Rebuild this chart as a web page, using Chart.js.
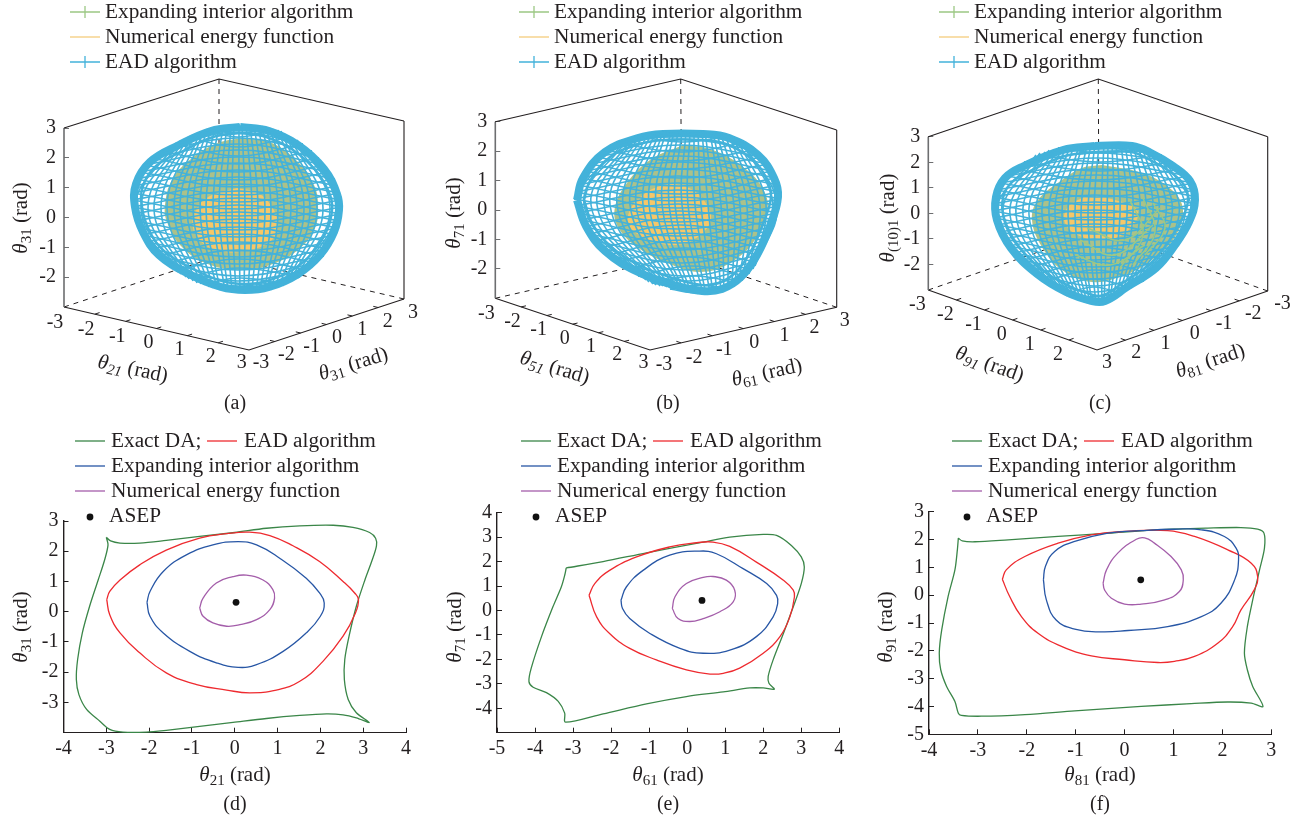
<!DOCTYPE html>
<html>
<head>
<meta charset="utf-8">
<title>Domain of attraction estimates</title>
<script src="https://cdn.jsdelivr.net/npm/chart.js@4"></script>
<style>
html, body { margin: 0; background: #fff; }
canvas { position: absolute; }
</style>
</head>
<body>
<script>
// ---- panel (a) wire surface, projected plane
const aLatY = [130,137,144,151,158,165,172,179,186,193,200,207,214,221,228,235,242,249,256,263,270,277,284];
const aLatL = [205,188,174,160,150,144,139,135,133,132,132,132,133,135,138,141,146,151,156,165,176,187,204];
const aLatR = [275,290,303,312,319,325,330,335,338,340,341,342,341,340,338,336,331,328,324,317,309,300,285];
const aLatX = [238,238,238,238,238,238,238,238,238,238,238,238,238,238,238,238,238,238,238,238,238,239,240];
const aLatFront = [137,147,156,164,172,180,187,195,202,209,216,223,230,237,244,251,257,264,270,276,281,286,290];
const aLatBack = [126,127,132,138,144,150,157,163,170,177,184,191,198,205,212,219,227,234,242,250,259,268,278];
const aMerX = [135,141,148,154,161,167,174,180,187,193,200,206,213,219,226,232,239,245,252,258,265,271,278,284,291,297,304,310,317,323,330,336];
const aTopX = [176,180,184,188,192,195,200,203,207,211,215,219,223,227,231,234,239,242,246,250,254,258,262,266,270,273,278,281,285,289,293,297];
const aTopY = [143,141,139,137,135,134,132,131,129,128,127,126,126,125,124,124,124,124,124,124,125,125,126,127,128,129,130,131,134,136,138,140];
const aBotX = [178,181,186,189,193,197,201,205,209,213,217,220,225,228,232,236,240,244,248,252,256,260,264,267,271,275,279,283,287,291,295,298];
const aBotY = [272,274,277,279,281,283,284,285,287,288,289,290,291,291,292,292,293,293,293,292,292,291,291,290,290,288,287,286,283,280,279,278];
const aRim = [[240,127],[269,131],[298,145],[324,169],[337,194],[339,210],[334,232],[320,255],[298,274],[269,287],[245,290],[221,287],[189,274],[159,255],[143,232],[135,207],[136,184],[150,162],[179,145],[211,131]];
const aRing = [[240,133],[266,137],[293,150],[317,172],[330,195],[332,210],[327,230],[314,251],[294,269],[267,281],[245,284],[222,281],[193,269],[164,251],[149,230],[142,207],[143,186],[156,166],[183,151],[213,137]];
const aGreen = [[243,138],[272,143],[298,162],[314,185],[318,205],[315,228],[298,250],[270,265],[240,270],[205,263],[180,245],[167,222],[165,205],[172,180],[192,158],[218,143]];
const aOrange = [[237,188],[258,193],[272,207],[278,224],[272,240],[250,250],[225,252],[205,245],[193,228],[197,208],[212,195]];

// ---- panel (b)
const bLatY = [136,143,150,157,164,171,178,185,192,199,206,213,220,227,234,241,248,255,262,269,276,283,289];
const bLatL = [205,187,173,165,160,155,150,147,145,144,145,147,151,154,159,165,170,178,187,197,208,222,240];
const bLatR = [301,313,325,333,339,343,346,349,350,351,350,348,345,343,340,336,332,329,325,319,315,308,298];
const bLatX = [253,252,250,250,250,249,249,248,248,248,248,248,248,249,249,250,252,253,255,258,262,265,268];
const bLatFront = [142,152,161,169,178,186,194,201,208,215,222,229,236,243,250,257,263,270,276,281,286,290,293];
const bLatBack = [131,134,139,145,150,156,162,169,176,183,190,197,204,211,218,225,233,240,248,257,266,276,285];
const bMerX = [148,154,161,167,174,180,187,193,200,206,213,219,226,232,239,245,252,258,265,271,278,284,291,297,304,310,317,323,330,336,343,347];
const bTopX = [194,197,202,205,209,213,217,221,225,229,233,236,241,244,248,252,256,260,264,268,272,275,280,283,287,291,295,299,303,307,311,313];
const bTopY = [142,140,138,137,136,135,135,134,133,133,131,131,131,131,131,131,131,131,131,131,131,131,132,132,133,134,134,135,137,139,141,143];
const bBotX = [216,219,223,226,230,233,237,240,244,247,251,254,258,261,265,268,273,276,280,283,287,291,294,298,302,305,309,312,316,319,323,325];
const bBotY = [280,282,284,285,286,286,287,288,288,289,290,291,292,293,293,294,294,294,293,293,293,292,291,289,287,285,283,281,277,274,269,266];
const bRim = [[147,200],[153,178],[175,152],[208,138],[233,134],[273,134],[299,138],[328,155],[344,178],[348,197],[340,226],[327,255],[311,277],[292,289],[272,291],[244,285],[208,272],[175,251],[156,226]];
const bRing = [[154,200],[160,181],[180,157],[210,144],[234,140],[272,140],[296,144],[323,160],[337,180],[341,197],[333,224],[321,251],[306,272],[289,283],[272,285],[246,279],[211,266],[180,246],[162,223]];
const bGreen = [[253,145],[283,150],[317,170],[335,193],[337,213],[325,240],[300,263],[270,272],[237,263],[207,247],[188,227],[185,207],[197,183],[220,160]];
const bOrange = [[240,183],[263,190],[278,207],[280,223],[263,240],[243,245],[220,240],[200,227],[200,210],[217,192]];

// ---- panel (c)
const cLatY = [148,155,162,169,176,183,190,197,204,211,218,225,232,239,246,253,260,267,274,281,288,294,300];
const cLatL = [183,163,149,138,131,125,121,119,118,118,119,122,125,129,134,139,147,153,161,169,179,190,205];
const cLatR = [272,287,298,307,315,319,321,323,322,321,319,316,312,308,303,298,292,286,278,269,256,247,237];
const cLatX = [228,225,224,222,222,222,221,221,220,220,220,219,219,219,218,219,219,220,220,220,218,219,221];
const cLatFront = [153,162,171,180,189,197,205,213,220,227,234,240,247,254,260,267,273,279,286,292,297,301,304];
const cLatBack = [143,148,153,158,163,169,175,181,188,195,202,210,217,224,232,239,247,255,262,270,279,287,296];
const cMerX = [122,128,135,141,148,154,161,167,174,180,187,193,200,206,213,219,226,232,239,245,252,258,265,271,278,284,291,297,304,310,316];
const cTopX = [161,165,170,174,178,182,187,191,195,199,204,207,212,216,220,224,229,233,237,241,246,250,254,258,263,267,271,275,280,284,287];
const cTopY = [155,153,152,150,150,149,148,147,146,145,145,144,144,143,143,143,143,143,143,143,143,143,143,143,145,146,147,149,152,154,156];
const cBotX = [180,182,186,188,192,194,197,200,203,206,209,212,215,217,221,224,227,229,233,235,238,241,244,247,250,252,255,258,262,264,267];
const cBotY = [289,290,292,293,296,297,298,299,300,301,302,303,304,304,304,304,304,304,302,301,299,297,295,293,291,290,288,286,283,281,278];
const cRim = [[220,146],[257,146],[276,153],[298,166],[315,181],[320,200],[314,222],[300,245],[281,268],[252,287],[230,301],[217,301],[191,292],[162,274],[136,248],[122,220],[121,197],[130,178],[149,166],[188,150]];
const cRing = [[220,152],[256,152],[273,159],[294,171],[309,185],[313,200],[307,219],[294,241],[276,263],[249,282],[229,295],[218,295],[194,286],[166,269],[142,244],[129,218],[128,198],[136,183],[153,172],[190,156]];
const cGreen = [[227,165],[267,173],[297,190],[308,210],[300,237],[277,260],[250,275],[217,282],[187,270],[167,247],[157,220],[163,200],[187,180],[207,168]];
const cOrange = [[213,195],[240,200],[262,210],[257,227],[233,240],[207,237],[190,223],[193,207]];
const cGreenWire = [[[200,255],[235,265],[270,245]],[[205,240],[240,255],[278,225]],[[212,228],[250,240],[285,208]],[[255,200],[268,235],[245,268]],[[268,198],[280,232],[258,265]],[[278,203],[290,228],[270,255]]];

// ---- panel (d) curves, rad
const dExact = [[-3.00,2.46],[-2.90,2.34],[-2.68,2.27],[-2.22,2.27],[-1.60,2.36],[-0.82,2.49],[0,2.62],[0.74,2.76],[1.52,2.84],[2.30,2.86],[2.76,2.79],[3.15,2.62],[3.29,2.43],[3.31,2.18],[3.21,1.71],[3.04,1.05],[2.84,0.18],[2.67,-0.81],[2.57,-1.58],[2.56,-2.24],[2.65,-2.90],[2.84,-3.34],[3.14,-3.66],[2.84,-3.51],[2.53,-3.41],[2.14,-3.38],[1.52,-3.43],[0.74,-3.53],[-0.04,-3.66],[-0.82,-3.79],[-1.60,-3.92],[-2.06,-3.98],[-2.61,-3.98],[-2.92,-3.89],[-3.15,-3.62],[-3.46,-3.23],[-3.64,-2.74],[-3.70,-2.24],[-3.67,-1.58],[-3.56,-0.70],[-3.39,0.18],[-3.19,1.05],[-3.04,1.71],[-2.96,2.21]];
const dEad = [[-2.99,0.40],[-2.92,0.67],[-2.68,1.05],[-2.22,1.55],[-1.60,2.04],[-0.82,2.43],[-0.19,2.58],[0.35,2.63],[0.82,2.52],[1.36,2.18],[1.98,1.66],[2.53,1.00],[2.80,0.62],[2.89,0.40],[2.82,-0.04],[2.53,-0.81],[2.06,-1.64],[1.52,-2.30],[0.97,-2.59],[0.35,-2.68],[-0.19,-2.59],[-0.89,-2.41],[-1.60,-2.02],[-2.22,-1.36],[-2.68,-0.70],[-2.92,-0.10]];
const dInterior = [[-2.05,0.31],[-1.98,0.67],[-1.67,1.33],[-1.13,1.88],[-0.51,2.21],[0.08,2.32],[0.51,2.21],[1.05,1.77],[1.67,1.11],[1.98,0.62],[2.09,0.29],[2.00,-0.15],[1.67,-0.70],[1.13,-1.31],[0.51,-1.75],[0.08,-1.84],[-0.43,-1.69],[-1.05,-1.31],[-1.67,-0.70],[-1.98,-0.15]];
const dEnergy = [[-0.82,0.12],[-0.74,0.45],[-0.43,0.95],[-0.04,1.16],[0.27,1.21],[0.66,1.05],[0.89,0.73],[0.93,0.45],[0.82,0.07],[0.51,-0.26],[0.12,-0.43],[-0.19,-0.48],[-0.51,-0.37],[-0.74,-0.15]];
const dAsep = [[0.03,0.31]];

// ---- panel (e)
const eExact = [[-3.18,1.74],[-2.21,2.00],[-1.07,2.36],[0.42,2.80],[1.12,3.00],[2.00,3.11],[2.35,3.07],[2.74,2.66],[3.00,2.19],[3.08,1.78],[3.00,1.10],[2.79,0.15],[2.53,-0.94],[2.26,-2.02],[2.13,-2.70],[2.15,-2.98],[2.29,-3.22],[2.00,-3.17],[1.65,-3.17],[0.95,-3.33],[-0.02,-3.52],[-1.07,-3.82],[-2.21,-4.23],[-3.20,-4.57],[-3.22,-4.20],[-3.39,-3.72],[-3.70,-3.36],[-4.05,-3.14],[-4.16,-2.91],[-4.10,-2.36],[-3.83,-1.07],[-3.53,0.15],[-3.31,0.96],[-3.22,1.44]];
const eEad = [[-2.58,0.62],[-2.43,1.10],[-2.04,1.64],[-1.33,2.19],[-0.46,2.60],[0.25,2.77],[0.68,2.80],[1.12,2.62],[1.82,1.98],[2.53,1.24],[2.79,0.83],[2.82,0.56],[2.70,-0.26],[2.44,-1.07],[2.00,-1.75],[1.38,-2.36],[0.95,-2.57],[0.60,-2.60],[-0.02,-2.43],[-0.81,-2.02],[-1.51,-1.55],[-2.04,-0.94],[-2.38,-0.26]];
const eInterior = [[-1.74,0.42],[-1.60,0.96],[-1.16,1.64],[-0.46,2.26],[0.33,2.43],[0.77,2.32],[1.47,1.71],[2.09,1.10],[2.35,0.62],[2.38,0.29],[2.26,-0.26],[1.82,-1.07],[1.12,-1.62],[0.42,-1.75],[-0.19,-1.55],[-0.98,-0.94],[-1.51,-0.33],[-1.70,0.08]];
const eEnergy = [[-0.39,0.08],[-0.32,0.56],[-0.02,1.10],[0.42,1.35],[0.68,1.39],[1.03,1.24],[1.25,0.83],[1.21,0.35],[0.86,-0.05],[0.42,-0.33],[0.07,-0.45],[-0.24,-0.33]];
const eAsep = [[0.39,0.41]];

// ---- panel (f)
const fExact = [[-3.40,2.05],[-3.32,1.95],[-3.06,1.92],[-2.38,1.99],[-1.36,2.11],[-0.34,2.23],[0.68,2.35],[1.70,2.41],[2.38,2.43],[2.72,2.37],[2.85,2.23],[2.86,1.69],[2.76,0.91],[2.62,-0.17],[2.51,-1.13],[2.45,-2.08],[2.51,-2.68],[2.62,-3.28],[2.83,-4.00],[2.59,-3.88],[2.11,-3.84],[1.36,-3.90],[0.34,-4.00],[-1.02,-4.16],[-2.04,-4.29],[-2.93,-4.35],[-3.34,-4.32],[-3.40,-4.24],[-3.47,-3.82],[-3.64,-3.28],[-3.76,-2.68],[-3.79,-2.08],[-3.74,-1.25],[-3.61,-0.05],[-3.47,0.91],[-3.42,1.63]];
const fEad = [[-2.50,0.57],[-2.42,0.91],[-2.04,1.39],[-1.36,1.87],[-0.68,2.17],[0,2.29],[0.88,2.32],[1.43,2.11],[2.11,1.63],[2.59,1.15],[2.72,0.67],[2.65,0.19],[2.38,-0.53],[2.21,-1.13],[1.91,-1.72],[1.43,-2.20],[1.02,-2.38],[0.68,-2.42],[0,-2.32],[-0.68,-2.18],[-1.29,-1.84],[-1.77,-1.37],[-2.11,-0.77],[-2.35,-0.05]];
const fInterior = [[-1.66,0.55],[-1.62,1.03],[-1.43,1.57],[-1.02,1.93],[-0.34,2.23],[0.34,2.32],[1.02,2.37],[1.57,2.35],[2.04,2.11],[2.28,1.69],[2.33,1.27],[2.25,0.55],[1.97,-0.29],[1.57,-0.77],[0.88,-1.13],[0.07,-1.27],[-0.48,-1.32],[-1.02,-1.22],[-1.40,-0.89],[-1.60,-0.17]];
const fEnergy = [[-0.44,0.43],[-0.37,0.91],[-0.14,1.51],[0.24,2.01],[0.41,2.06],[0.61,1.87],[0.95,1.39],[1.16,0.91],[1.20,0.55],[1.12,0.13],[0.82,-0.17],[0.34,-0.32],[0,-0.32],[-0.27,-0.11],[-0.41,0.19]];
const fAsep = [[0.33,0.55]];

// tick labels
const zTicks = [3,2,1,0,-1,-2];
const floorUp = ['-3','-2','-1','0','1','2','3'];
const floorDown = ['3','2','1','0','-1','-2','-3'];
const dXTicks = [-4,-3,-2,-1,0,1,2,3,4];
const dYTicks = [-3,-2,-1,0,1,2,3];
const eXTicks = [-5,-4,-3,-2,-1,0,1,2,3,4];
const eYTicks = [-4,-3,-2,-1,0,1,2,3,4];
const fXTicks = [-4,-3,-2,-1,0,1,2,3];
const fYTicks = [-5,-4,-3,-2,-1,0,1,2,3];

const INK = '#231f20';
const SERIF = '"Liberation Serif", serif';
const WIRE_BLUE = '#43b2da', WIRE_GREEN = '#9cc884', WIRE_ORANGE = '#f4cd7c';
const SHADE_GREEN = '#abc18a', SHADE_ORANGE = '#f6c768';
const DA_GREEN = '#3a8648', DA_RED = '#ee2a2f', DA_BLUE = '#2756a5', DA_PURPLE = '#a45eaa';

function xy(list) { return list.map(p => ({ x: p[0], y: p[1] })); }
function loop(list) { return xy(list.concat([list[0]])); }

function wire(points, color, width) {
    return { data: xy(points), showLine: true, borderColor: color, borderWidth: width, pointRadius: 0, tension: 0.4, clip: false };
}
function segment(points, color, width, dash) {
    return { data: xy(points), showLine: true, borderColor: color, borderWidth: width, pointRadius: 0, tension: 0, clip: false, borderDash: dash || [] };
}
function shade(list, color) {
    return { data: loop(list), showLine: true, borderColor: color, borderWidth: 0, backgroundColor: color, pointRadius: 0, tension: 0.4, fill: 'shape', clip: false };
}

// θ + subscript + (rad), optionally rotated about its centre
function drawTitle(ctx, sub, cx, cy, angle, italicSub) {
    const big = '21px ' + SERIF, theta = 'italic 21px ' + SERIF;
    const small = (italicSub ? 'italic ' : '') + '15px ' + SERIF;
    const tail = ' (rad)';
    ctx.font = theta; const w1 = ctx.measureText('θ').width;
    ctx.font = small; const w2 = ctx.measureText(sub).width;
    ctx.font = big; const w3 = ctx.measureText(tail).width;
    ctx.save();
    ctx.translate(cx, cy);
    ctx.rotate(angle * Math.PI / 180);
    ctx.fillStyle = INK;
    ctx.textBaseline = 'alphabetic';
    ctx.textAlign = 'left';
    let x = -(w1 + w2 + w3) / 2;
    ctx.font = theta; ctx.fillText('θ', x, 7); x += w1;
    ctx.font = small; ctx.fillText(sub, x, 11); x += w2;
    ctx.font = big; ctx.fillText(tail, x, 7);
    ctx.restore();
}
function drawText(ctx, text, x, y, size, align) {
    ctx.font = (size || 21.3) + 'px ' + SERIF;
    ctx.fillStyle = INK;
    ctx.textAlign = align || 'left';
    ctx.textBaseline = 'middle';
    ctx.fillText(text, x, y);
}
function legendLine(ctx, x, y, color, plus) {
    ctx.strokeStyle = color;
    ctx.lineWidth = 1.3;
    ctx.beginPath();
    ctx.moveTo(x, y); ctx.lineTo(x + 30, y);
    if (plus) { ctx.moveTo(x + 15, y - 6); ctx.lineTo(x + 15, y + 6); }
    ctx.stroke();
}

function makeSurface(p) {
    const canvas = document.createElement('canvas');
    canvas.width = 430; canvas.height = 420;
    canvas.style.left = p.left + 'px'; canvas.style.top = '0px';
    document.body.appendChild(canvas);

    const b = p.box, s = p.surface;
    const sets = [];
    (p.greenWire || []).forEach(w => sets.push(wire(w, WIRE_GREEN, 1.5)));
    s.latY.forEach((y, i) => {
        sets.push(wire([[s.latL[i], y], [s.latX[i], s.latFront[i]], [s.latR[i], y]], WIRE_BLUE, 1.6));
        sets.push(wire([[s.latL[i], y], [s.latX[i], s.latBack[i]], [s.latR[i], y]], WIRE_BLUE, 1.6));
    });
    s.merX.forEach((x, i) => {
        sets.push(wire([[s.topX[i], s.topY[i]], [x, s.merY], [s.botX[i], s.botY[i]]], WIRE_BLUE, 1.6));
    });
    sets.push(wire(s.rim.concat([s.rim[0]]), WIRE_BLUE, 8));
    sets.push(wire(s.ring.concat([s.ring[0]]), WIRE_BLUE, 2.5));
    sets.push(shade(s.orange, SHADE_ORANGE));
    sets.push(shade(s.green, SHADE_GREEN));

    // box edges
    sets.push(segment([b.leftTop, b.apex, b.rightTop], INK, 1.1));
    sets.push(segment([b.leftTop, b.leftBot], '#6d6e70', 1.6));
    sets.push(segment([b.rightTop, b.rightBot], INK, 1.1));
    sets.push(segment([b.leftBot, b.front, b.rightBot], INK, 1.1));
    const back = [b.leftBot[0] + b.rightBot[0] - b.front[0], b.leftBot[1] + b.rightBot[1] - b.front[1]];
    sets.push(segment([b.apex, back], INK, 1, [5, 5]));
    sets.push(segment([b.leftBot, back], INK, 1, [5, 5]));
    sets.push(segment([b.rightBot, back], INK, 1, [5, 5]));

    // floor ticks
    const along = (from, to, i) => [from[0] + (to[0] - from[0]) * i / 6, from[1] + (to[1] - from[1]) * i / 6];
    const lenOf = v => Math.hypot(v[0], v[1]);
    const dirR = [b.rightBot[0] - b.front[0], b.rightBot[1] - b.front[1]];
    const dirL = [b.leftBot[0] - b.front[0], b.leftBot[1] - b.front[1]];
    for (let i = 1; i < 6; i++) {
        const a = along(b.leftBot, b.front, i), c = along(b.front, b.rightBot, i);
        sets.push(segment([a, [a[0] + dirR[0] / lenOf(dirR) * 5, a[1] + dirR[1] / lenOf(dirR) * 5]], INK, 1));
        sets.push(segment([c, [c[0] + dirL[0] / lenOf(dirL) * 5, c[1] + dirL[1] / lenOf(dirL) * 5]], INK, 1));
    }

    const perUnit = (b.leftBot[1] - b.leftTop[1]) / 6;
    const annotate = {
        id: 'annotate',
        afterDraw(chart) {
            const ctx = chart.ctx;
            ctx.save();
            p.legendY.forEach((y, i) => {
                legendLine(ctx, p.legendX, y, [WIRE_GREEN, WIRE_ORANGE, WIRE_BLUE][i], i !== 1);
                drawText(ctx, ['Expanding interior algorithm', 'Numerical energy function', 'EAD algorithm'][i], p.legendX + 35, y);
            });
            p.leftLabels.forEach((t, i) => {
                const a = along(b.leftBot, b.front, i);
                drawText(ctx, t, a[0] + p.leftOff[0] + i * p.leftOff[2], a[1] + p.leftOff[1] + i * p.leftOff[3], 20, 'center');
            });
            p.rightLabels.forEach((t, i) => {
                const a = along(b.front, b.rightBot, i);
                drawText(ctx, t, a[0] + p.rightOff[0] + i * p.rightOff[2], a[1] + p.rightOff[1] + i * p.rightOff[3], 20, 'center');
            });
            drawTitle(ctx, p.leftTitle[0], p.leftTitle[1], p.leftTitle[2], p.leftTitle[3], true);
            drawTitle(ctx, p.rightTitle[0], p.rightTitle[1], p.rightTitle[2], p.rightTitle[3], false);
            drawTitle(ctx, p.zTitle[0], p.zTitle[1], p.zTitle[2], -90, false);
            drawText(ctx, p.tag, p.tagX, 404, 20, 'center');
            ctx.restore();
        }
    };

    new Chart(canvas, {
        type: 'scatter',
        data: { datasets: sets },
        plugins: [annotate],
        options: {
            responsive: false,
            animation: false,
            events: [],
            layout: { autoPadding: false, padding: 0 },
            plugins: { legend: { display: false }, tooltip: { enabled: false } },
            scales: {
                x: { type: 'linear', display: false, min: b.leftTop[0], max: 430 },
                y: { type: 'linear', display: false, min: 0, max: 420, reverse: true },
                z: {
                    type: 'linear', axis: 'y', position: 'left',
                    min: -3 - (420 - b.leftBot[1]) / perUnit,
                    max: 3 + b.leftTop[1] / perUnit,
                    afterFit: a => { a.width = b.leftTop[0]; a.paddingTop = 0; a.paddingBottom = 0; },
                    afterBuildTicks: a => { a.ticks = zTicks.map(v => ({ value: v })); },
                    border: { display: false },
                    grid: { drawOnChartArea: false, tickLength: -5, tickColor: '#6d6e70', tickWidth: 1 },
                    ticks: { autoSkip: false, maxRotation: 0, padding: 13, color: INK, font: { family: SERIF, size: 20 }, callback: v => String(v) }
                }
            }
        }
    });
}

function makePlane(p) {
    const canvas = document.createElement('canvas');
    canvas.width = 430; canvas.height = 399;
    canvas.style.left = p.left + 'px'; canvas.style.top = '420px';
    document.body.appendChild(canvas);

    const curve = (list, color, tension) => ({ data: loop(list), showLine: true, borderColor: color, borderWidth: 1.3, pointRadius: 0, tension: tension, clip: false });
    const sets = [
        { data: xy(p.asep), pointRadius: 3.4, backgroundColor: '#111', borderWidth: 0 },
        curve(p.energy, DA_PURPLE, 0.45),
        curve(p.interior, DA_BLUE, 0.45),
        curve(p.ead, DA_RED, 0.45),
        curve(p.exact, DA_GREEN, 0.3)
    ];
    const annotate = {
        id: 'annotate',
        afterDraw(chart) {
            const ctx = chart.ctx, L = p.legendX;
            ctx.save();
            legendLine(ctx, L, 21, DA_GREEN, false);
            drawText(ctx, 'Exact DA;', L + 36, 21);
            legendLine(ctx, L + p.redGap, 21, DA_RED, false);
            drawText(ctx, 'EAD algorithm', L + p.redGap + 37, 21);
            legendLine(ctx, L, 46, DA_BLUE, false);
            drawText(ctx, 'Expanding interior algorithm', L + 36, 46);
            legendLine(ctx, L, 71, DA_PURPLE, false);
            drawText(ctx, 'Numerical energy function', L + 36, 71);
            ctx.fillStyle = '#111';
            ctx.beginPath(); ctx.arc(L + 15, 97, 3.4, 0, Math.PI * 2); ctx.fill();
            drawText(ctx, 'ASEP', L + 34, 96);
            drawTitle(ctx, p.xTitle[0], p.xTitle[1], 354, 0, false);
            drawTitle(ctx, p.yTitle[0], p.yTitle[1], 207, -90, false);
            drawText(ctx, p.tag, p.xTitle[1], 385, 20, 'center');
            ctx.restore();
        }
    };
    const tickFont = { family: SERIF, size: 20 };
    new Chart(canvas, {
        type: 'scatter',
        data: { datasets: sets },
        plugins: [annotate],
        options: {
            responsive: false,
            animation: false,
            events: [],
            layout: { autoPadding: false, padding: { left: 0, top: p.top, right: 430 - p.right, bottom: 0 } },
            plugins: { legend: { display: false }, tooltip: { enabled: false } },
            scales: {
                x: {
                    type: 'linear', min: p.xTicks[0], max: p.xTicks[p.xTicks.length - 1],
                    afterFit: a => { a.height = 399 - p.bottom; },
                    afterBuildTicks: a => { a.ticks = p.xTicks.map(v => ({ value: v })); },
                    border: { color: INK, width: 1 },
                    grid: { drawOnChartArea: false, tickLength: -5, tickColor: INK },
                    ticks: { autoSkip: false, maxRotation: 0, padding: 9, color: INK, font: tickFont, callback: v => String(v) }
                },
                y: {
                    type: 'linear', min: p.yMin, max: p.yTicks[p.yTicks.length - 1],
                    afterFit: a => { a.width = p.axisLeft; },
                    afterBuildTicks: a => { a.ticks = p.yTicks.map(v => ({ value: v })); },
                    border: { color: INK, width: 1.4 },
                    grid: { drawOnChartArea: false, tickLength: -5, tickColor: INK },
                    ticks: { autoSkip: false, maxRotation: 0, padding: 10, color: INK, font: tickFont, callback: v => String(v) }
                }
            }
        }
    });
}

makeSurface({
    left: 0, tag: '(a)', tagX: 235, legendX: 70, legendY: [12, 37, 62],
    box: { apex: [219, 79], leftTop: [64, 128], rightTop: [404, 121], leftBot: [64, 307], rightBot: [404, 299], front: [249, 350] },
    surface: { latY: aLatY, latL: aLatL, latR: aLatR, latX: aLatX, latFront: aLatFront, latBack: aLatBack, merX: aMerX, merY: 208, topX: aTopX, topY: aTopY, botX: aBotX, botY: aBotY, rim: aRim, ring: aRing, green: aGreen, orange: aOrange },
    leftLabels: floorUp, leftOff: [-9, 16, 0.3, -0.5], rightLabels: floorUp, rightOff: [12, 13, -0.5, 0.2],
    leftTitle: ['21', 133, 368, 12], rightTitle: ['31', 353, 363, -17], zTitle: ['31', 20, 218]
});
makeSurface({
    left: 430, tag: '(b)', tagX: 238, legendX: 89, legendY: [12, 37, 62],
    box: { apex: [250.7, 79], leftTop: [65.3, 121.7], rightTop: [406.7, 130], leftBot: [65.3, 298.3], rightBot: [406.7, 307.3], front: [220, 350] },
    surface: { latY: bLatY, latL: bLatL, latR: bLatR, latX: bLatX, latFront: bLatFront, latBack: bLatBack, merX: bMerX, merY: 205, topX: bTopX, topY: bTopY, botX: bBotX, botY: bBotY, rim: bRim, ring: bRing, green: bGreen, orange: bOrange },
    leftLabels: floorUp, leftOff: [-9, 15, 0.4, -0.3], rightLabels: floorUp, rightOff: [14, 15, -1, -0.3],
    leftTitle: ['51', 125, 366.7, 17], rightTitle: ['61', 336.7, 371.7, -12], zTitle: ['71', 23, 213]
});
makeSurface({
    left: 875, tag: '(c)', tagX: 225, legendX: 64, legendY: [12, 37, 62],
    box: { apex: [223.3, 79], leftTop: [53.3, 136.7], rightTop: [392.7, 136.7], leftBot: [53.3, 290], rightBot: [392.7, 291], front: [222, 350] },
    surface: { latY: cLatY, latL: cLatL, latR: cLatR, latX: cLatX, latFront: cLatFront, latBack: cLatBack, merX: cMerX, merY: 215, topX: cTopX, topY: cTopY, botX: cBotX, botY: cBotY, rim: cRim, ring: cRing, green: cGreen, orange: cOrange },
    greenWire: cGreenWire,
    leftLabels: floorUp.slice(0, 6), leftOff: [-11, 15, 0, 0], rightLabels: floorDown, rightOff: [10, 13, 0.8, 0],
    leftTitle: ['91', 115, 363.3, 20], rightTitle: ['81', 335, 360, -18], zTitle: ['(10)1', 12, 218]
});

makePlane({
    left: 0, tag: '(d)', legendX: 75, redGap: 132, top: 101, bottom: 312.7, axisLeft: 63.5, right: 406, yMin: -4,
    xTicks: dXTicks, yTicks: dYTicks, exact: dExact, ead: dEad, interior: dInterior, energy: dEnergy, asep: dAsep,
    xTitle: ['21', 235], yTitle: ['31', 20]
});
makePlane({
    left: 430, tag: '(e)', legendX: 91, redGap: 132, top: 92.7, bottom: 312.7, axisLeft: 67, right: 409.3, yMin: -5,
    xTicks: eXTicks, yTicks: eYTicks, exact: eExact, ead: eEad, interior: eInterior, energy: eEnergy, asep: eAsep,
    xTitle: ['61', 238], yTitle: ['71', 24]
});
makePlane({
    left: 875, tag: '(f)', legendX: 77, redGap: 132, top: 91.7, bottom: 314.3, axisLeft: 54, right: 396.3, yMin: -5,
    xTicks: fXTicks, yTicks: fYTicks, exact: fExact, ead: fEad, interior: fInterior, energy: fEnergy, asep: fAsep,
    xTitle: ['81', 225], yTitle: ['91', 10]
});
</script>
</body>
</html>
